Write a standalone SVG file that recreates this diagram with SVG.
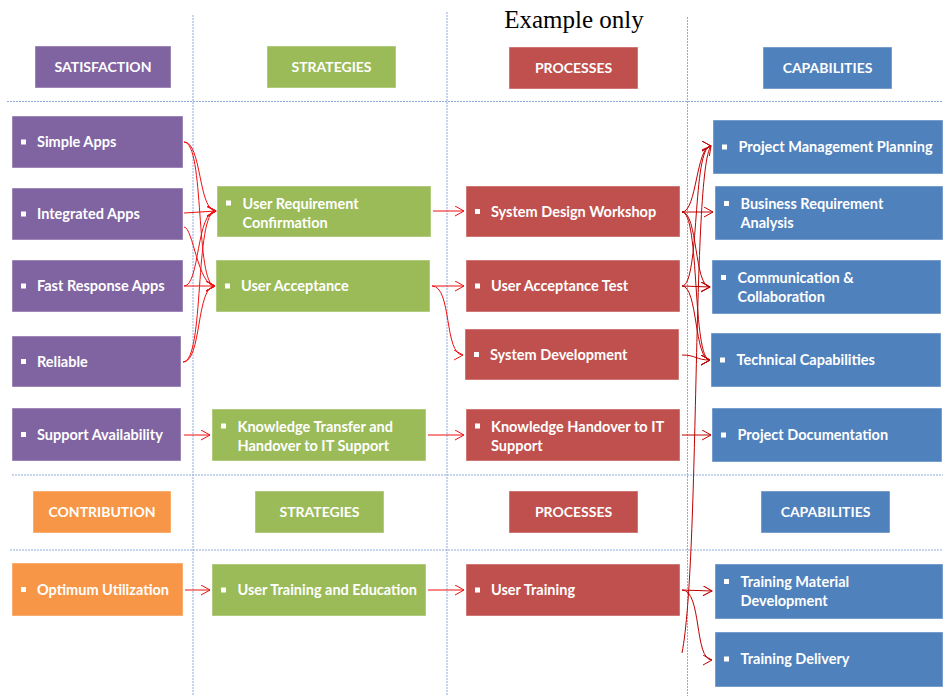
<svg xmlns="http://www.w3.org/2000/svg" width="943" height="696" viewBox="0 0 943 696">
<defs>
<style>
.grid{stroke:#8FAADC;stroke-width:1;stroke-dasharray:2 1;fill:none}
.box{stroke:#FFFFFF;stroke-opacity:0.45;stroke-width:1}
.pu{fill:#8064A2}.gr{fill:#9BBB59}.rd{fill:#C0504D}.bl{fill:#4F81BD}.or{fill:#F79646}
.hd{font-family:Lato,"Liberation Sans",sans-serif;font-weight:bold;font-size:14px;fill:#FFFFFF;text-anchor:middle}
.tx{font-family:Lato,"Liberation Sans",sans-serif;font-weight:bold;font-size:14.5px;fill:#FFFFFF}
.bu{fill:#FFFFFF}
.c1{fill:none;stroke:#F01010;stroke-width:1;marker-end:url(#arrR)}
.c2{fill:none;stroke:#C00000;stroke-width:1;marker-end:url(#arrD)}
.title{font-family:"Liberation Serif",serif;font-size:25px;fill:#000000;text-anchor:middle}
</style>
<marker id="arrR" markerUnits="userSpaceOnUse" markerWidth="12" markerHeight="12" refX="9" refY="5" orient="auto" viewBox="0 0 12 12">
<path d="M0,0 L9,5 L0,10" fill="none" stroke="#F01010" stroke-width="1"/>
</marker>
<marker id="arrD" markerUnits="userSpaceOnUse" markerWidth="12" markerHeight="12" refX="9" refY="5" orient="auto" viewBox="0 0 12 12">
<path d="M0,0 L9,5 L0,10" fill="none" stroke="#C00000" stroke-width="1"/>
</marker>
</defs>
<rect width="943" height="696" fill="#FFFFFF"/>
<g id="grid">
<line class="grid" x1="193" y1="15" x2="193" y2="696"/>
<line class="grid" x1="447" y1="12" x2="447" y2="696"/>
<line class="grid" x1="687.5" y1="17" x2="687.5" y2="696"/>
<line class="grid" x1="7" y1="101.5" x2="943" y2="101.5"/>
<line class="grid" x1="12" y1="475" x2="943" y2="475"/>
<line class="grid" x1="10" y1="550" x2="943" y2="550"/>
</g>
<text class="title" x="574" y="28">Example only</text>

<g id="h-satisfaction"><rect class="box pu" x="35" y="46" width="136" height="42"/><text class="hd" x="103" y="72">SATISFACTION</text></g>
<g id="h-strategies1"><rect class="box gr" x="267" y="46" width="129" height="42"/><text class="hd" x="331.5" y="72">STRATEGIES</text></g>
<g id="h-processes1"><rect class="box rd" x="509" y="47" width="129" height="42"/><text class="hd" x="573.5" y="73">PROCESSES</text></g>
<g id="h-capabilities1"><rect class="box bl" x="763" y="47" width="129" height="42"/><text class="hd" x="827.5" y="73">CAPABILITIES</text></g>

<g id="h-contribution"><rect class="box or" x="33" y="491" width="138" height="42"/><text class="hd" x="102" y="517">CONTRIBUTION</text></g>
<g id="h-strategies2"><rect class="box gr" x="255" y="491" width="129" height="42"/><text class="hd" x="319.5" y="517">STRATEGIES</text></g>
<g id="h-processes2"><rect class="box rd" x="509" y="491" width="129" height="42"/><text class="hd" x="573.5" y="517">PROCESSES</text></g>
<g id="h-capabilities2"><rect class="box bl" x="761" y="491" width="129" height="42"/><text class="hd" x="825.5" y="517">CAPABILITIES</text></g>

<g id="simple-apps"><rect class="box pu" x="12" y="116" width="171" height="52"/><rect class="bu" x="21" y="139.5" width="5" height="5"/><text class="tx" x="37" y="147">Simple Apps</text></g>
<g id="integrated-apps"><rect class="box pu" x="12" y="188" width="171" height="52"/><rect class="bu" x="21" y="211.5" width="5" height="5"/><text class="tx" x="37" y="219">Integrated Apps</text></g>
<g id="fast-response-apps"><rect class="box pu" x="12" y="260" width="171" height="52"/><rect class="bu" x="21" y="283.5" width="5" height="5"/><text class="tx" x="37" y="291">Fast Response Apps</text></g>
<g id="reliable"><rect class="box pu" x="12" y="336" width="169" height="51"/><rect class="bu" x="21" y="359" width="5" height="5"/><text class="tx" x="37" y="366.5">Reliable</text></g>
<g id="support-availability"><rect class="box pu" x="12" y="408" width="169" height="53"/><rect class="bu" x="21" y="432" width="5" height="5"/><text class="tx" x="37" y="439.5">Support Availability</text></g>
<g id="optimum-utilization"><rect class="box or" x="12" y="563" width="171" height="53"/><rect class="bu" x="21" y="587" width="5" height="5"/><text class="tx" x="37" y="594.5">Optimum Utilization</text></g>

<g id="user-requirement-confirmation"><rect class="box gr" x="217" y="186" width="214" height="51"/><rect class="bu" x="226" y="200.5" width="5" height="5"/><text class="tx" x="242.5" y="208.5">User Requirement</text><text class="tx" x="242.5" y="227.5">Confirmation</text></g>
<g id="user-acceptance"><rect class="box gr" x="216" y="260" width="214" height="52"/><rect class="bu" x="225" y="283.5" width="5" height="5"/><text class="tx" x="241" y="291">User Acceptance</text></g>
<g id="knowledge-transfer"><rect class="box gr" x="212" y="409" width="214" height="52"/><rect class="bu" x="221" y="423.5" width="5" height="5"/><text class="tx" x="237.5" y="431.5">Knowledge Transfer and</text><text class="tx" x="237.5" y="450.5">Handover to IT Support</text></g>
<g id="user-training-education"><rect class="box gr" x="212" y="564" width="214" height="52"/><rect class="bu" x="221" y="587.5" width="5" height="5"/><text class="tx" x="237.5" y="595">User Training and Education</text></g>

<g id="system-design-workshop"><rect class="box rd" x="466" y="186" width="214" height="51"/><rect class="bu" x="475" y="209" width="5" height="5"/><text class="tx" x="491" y="216.5">System Design Workshop</text></g>
<g id="user-acceptance-test"><rect class="box rd" x="466" y="260" width="214" height="52"/><rect class="bu" x="475" y="283.5" width="5" height="5"/><text class="tx" x="491" y="291">User Acceptance Test</text></g>
<g id="system-development"><rect class="box rd" x="465" y="329" width="214" height="51"/><rect class="bu" x="474" y="352" width="5" height="5"/><text class="tx" x="490" y="359.5">System Development</text></g>
<g id="knowledge-handover"><rect class="box rd" x="466" y="409" width="214" height="52"/><rect class="bu" x="475" y="423.5" width="5" height="5"/><text class="tx" x="491" y="431.5">Knowledge Handover to IT</text><text class="tx" x="491" y="450.5">Support</text></g>
<g id="user-training"><rect class="box rd" x="466" y="564" width="214" height="52"/><rect class="bu" x="475" y="587.5" width="5" height="5"/><text class="tx" x="491" y="595">User Training</text></g>

<g id="project-management-planning"><rect class="box bl" x="713" y="120" width="230" height="54"/><rect class="bu" x="722" y="144.5" width="5" height="5"/><text class="tx" x="738.5" y="152">Project Management Planning</text></g>
<g id="business-requirement-analysis"><rect class="box bl" x="715" y="186" width="228" height="54"/><rect class="bu" x="724" y="201" width="5" height="5"/><text class="tx" x="740.5" y="209">Business Requirement</text><text class="tx" x="740.5" y="228">Analysis</text></g>
<g id="communication-collaboration"><rect class="box bl" x="712" y="260" width="229" height="54"/><rect class="bu" x="721" y="275" width="5" height="5"/><text class="tx" x="737.5" y="283">Communication &amp;</text><text class="tx" x="737.5" y="302">Collaboration</text></g>
<g id="technical-capabilities"><rect class="box bl" x="711" y="333" width="230" height="54"/><rect class="bu" x="720" y="357.5" width="5" height="5"/><text class="tx" x="736.5" y="365">Technical Capabilities</text></g>
<g id="project-documentation"><rect class="box bl" x="712" y="408" width="230" height="54"/><rect class="bu" x="721" y="432.5" width="5" height="5"/><text class="tx" x="737.5" y="440">Project Documentation</text></g>
<g id="training-material-development"><rect class="box bl" x="715" y="564" width="228" height="55"/><rect class="bu" x="724" y="579" width="5" height="5"/><text class="tx" x="740.5" y="587">Training Material</text><text class="tx" x="740.5" y="606">Development</text></g>
<g id="training-delivery"><rect class="box bl" x="715" y="632" width="228" height="55"/><rect class="bu" x="724" y="656.5" width="5" height="5"/><text class="tx" x="740.5" y="664">Training Delivery</text></g>

<g id="connectors">
<path class="c1" d="M184,142 C202,142 198,211 216,211"/>
<path class="c1" d="M184,142 C205,142 195,286 215,286"/>
<path class="c1" d="M184,213 L216,211"/>
<path class="c1" d="M184,227 C193,227 198,286 215,286"/>
<path class="c1" d="M184,286 L215,286"/>
<path class="c1" d="M184,286 C200,286 196,211 216,211"/>
<path class="c1" d="M183,362 C205,362 194,211 216,211"/>
<path class="c1" d="M183,362 C202,362 196,286 215,286"/>
<path class="c1" d="M433,211 L464,211"/>
<path class="c1" d="M432,286 L464,286"/>
<path class="c1" d="M432,286 C452,286 444,355 463,355"/>
<path class="c1" d="M184,435 L210,435"/>
<path class="c1" d="M428,435 L464,435"/>
<path class="c1" d="M185,590 L210,590"/>
<path class="c1" d="M428,590 L464,590"/>
<path class="c2" d="M682,212 C697,212 696,146 711,146"/>
<path class="c2" d="M682,212 L713,212"/>
<path class="c2" d="M682,212 C698,212 694,287 710,287"/>
<path class="c2" d="M682,212 C700,212 692,360 710,360"/>
<path class="c2" d="M682,286 C700,286 692,146 711,146"/>
<path class="c2" d="M682,286 L710,287"/>
<path class="c2" d="M682,286 C698,286 694,360 710,360"/>
<path class="c2" d="M682,355 C696,355 696,360 710,360"/>
<path class="c2" d="M682,653 C700,560 692,170 711,146"/>
<path class="c2" d="M682,435 L711,435"/>
<path class="c2" d="M682,590 L712,591"/>
<path class="c2" d="M682,590 C702,590 694,660 712,660"/>
</g>
</svg>
